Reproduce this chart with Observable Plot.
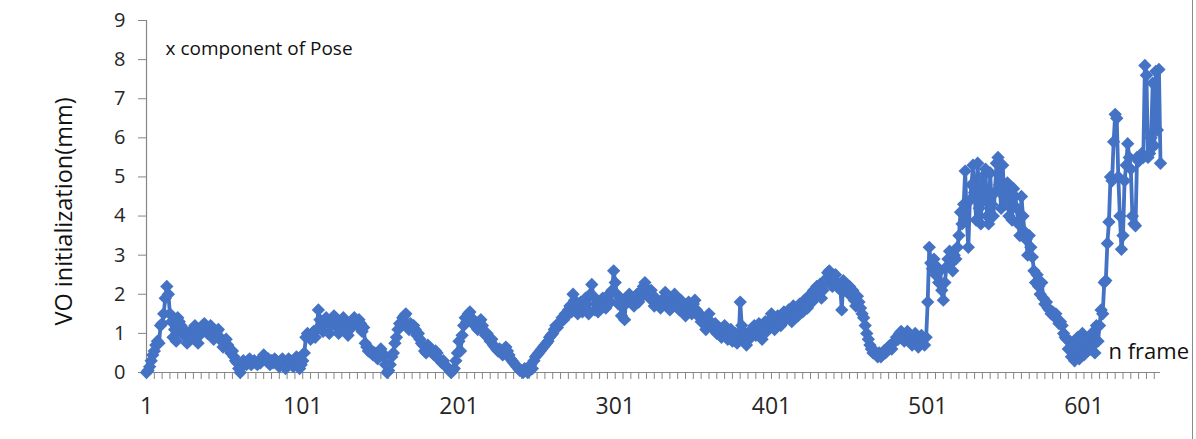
<!DOCTYPE html>
<html>
<head>
<meta charset="utf-8">
<script src="https://cdn.jsdelivr.net/npm/d3@7"></script>
<script src="https://cdn.jsdelivr.net/npm/@observablehq/plot@0.6"></script>
<style>
  html, body { margin: 0; padding: 0; background: #fff; }
  #wrap { position: relative; width: 1196px; height: 439px; overflow: hidden; }
  #edge { position: absolute; left: 1192px; top: 0; width: 1px; height: 439px; background: #8a8a8a; }
</style>
</head>
<body>
<div id="wrap"><div id="edge"></div></div>
<script>
// x component of Pose, VO initialization (mm), one value per frame (frames 1..650)
const poseX = [
  0.0, 0.05, 0.15, 0.3, 0.45, 0.55, 0.7, 0.8, 0.75, 1.2,
  1.25, 1.5, 1.9, 2.2, 2.0, 1.5, 1.3, 0.9, 1.1, 0.8,
  1.4, 1.3, 1.2, 1.0, 1.1, 0.9, 0.75, 1.0, 1.05, 0.9,
  1.1, 1.2, 1.0, 0.75, 0.95, 1.1, 1.2, 1.25, 1.15, 1.0,
  1.1, 1.2, 1.0, 0.85, 0.95, 1.05, 1.1, 0.9, 0.8, 0.65,
  0.8, 0.85, 0.7, 0.6, 0.5, 0.55, 0.4, 0.3, 0.25, 0.1,
  0.0, 0.15, 0.3, 0.25, 0.2, 0.3, 0.35, 0.2, 0.25, 0.3,
  0.25, 0.2, 0.3, 0.25, 0.35, 0.45, 0.4, 0.3, 0.35, 0.2,
  0.3, 0.25, 0.35, 0.3, 0.2, 0.15, 0.3, 0.35, 0.25, 0.1,
  0.2, 0.35, 0.3, 0.2, 0.15, 0.3, 0.4, 0.25, 0.1, 0.2,
  0.3, 0.5, 0.9, 1.0, 0.95, 0.85, 1.0, 1.05, 0.9, 1.1,
  1.6, 1.35, 1.2, 1.05, 1.25, 1.4, 1.3, 1.0, 1.2, 1.35,
  1.45, 1.3, 1.15, 1.0, 1.2, 1.3, 1.4, 1.25, 1.1, 0.95,
  1.1, 1.25, 1.35, 1.4, 1.3, 1.2, 1.35, 1.25, 1.05, 1.15,
  0.75, 0.65, 0.55, 0.6, 0.5, 0.45, 0.5, 0.4, 0.35, 0.45,
  0.6, 0.5, 0.4, 0.2, 0.0, 0.05, 0.2, 0.4, 0.5, 0.75,
  0.9, 1.1, 1.25, 1.2, 1.4, 1.45, 1.5, 1.2, 1.1, 1.25,
  1.15, 1.2, 1.1, 0.95, 1.0, 0.85, 0.75, 0.7, 0.55, 0.5,
  0.7, 0.65, 0.6, 0.5, 0.45, 0.55, 0.5, 0.35, 0.3, 0.25,
  0.3, 0.2, 0.15, 0.1, 0.05, 0.0, 0.05, 0.1, 0.3, 0.5,
  0.8, 0.55, 0.95, 1.2, 1.4, 1.3, 1.5, 1.55, 1.4, 1.3,
  1.2, 1.25, 1.1, 1.3, 1.35, 1.2, 1.05, 0.95, 1.0, 0.9,
  0.8, 0.85, 0.7, 0.65, 0.6, 0.55, 0.6, 0.5, 0.45, 0.6,
  0.65, 0.55, 0.45, 0.35, 0.3, 0.25, 0.2, 0.15, 0.1, 0.05,
  0.05, 0.0, 0.1, 0.05, 0.0, 0.1, 0.2, 0.1, 0.3, 0.4,
  0.45, 0.5, 0.55, 0.6, 0.65, 0.7, 0.75, 0.8, 0.9, 0.95,
  1.0, 1.1, 1.2, 1.15, 1.25, 1.3, 1.4, 1.35, 1.5, 1.45,
  1.6, 1.7, 1.55, 2.0, 1.85, 1.7, 1.5, 1.6, 1.8, 1.55,
  1.7, 1.9, 1.75, 1.5, 2.0, 2.25, 1.95, 1.6, 1.75, 1.55,
  1.8, 1.7, 1.9, 1.85, 1.65, 1.95, 2.0, 1.8, 2.1, 2.6,
  2.3, 2.0, 1.75, 1.9, 1.45, 1.7, 1.35, 1.9, 1.8, 2.0,
  1.85, 1.9, 1.7, 1.95, 2.0, 1.8, 1.9, 2.1, 2.2, 2.3,
  2.15, 2.0, 1.9, 2.1, 1.85, 1.7, 1.9, 1.8, 1.75, 1.65,
  1.8, 1.9, 2.05, 1.85, 1.7, 1.6, 1.75, 1.9, 2.0, 1.8,
  1.7, 1.6, 1.85, 1.75, 1.55, 1.45, 1.7, 1.8, 1.6, 1.5,
  1.75, 1.85, 1.6, 1.45, 1.5, 1.3, 1.4, 1.25, 1.1, 1.35,
  1.5, 1.3, 1.2, 1.1, 1.25, 1.0, 1.15, 1.05, 0.9, 1.1,
  1.2, 1.0, 0.85, 0.95, 1.1, 0.8, 0.9, 1.0, 0.75, 0.85,
  1.8, 1.2, 0.9, 1.0, 0.7, 0.85, 1.05, 0.9, 1.1, 1.2,
  0.95, 1.1, 1.25, 1.0, 0.85, 1.15, 1.3, 1.05, 1.2, 1.35,
  1.5, 1.25, 1.1, 1.35, 1.45, 1.3, 1.2, 1.5, 1.55, 1.35,
  1.4, 1.6, 1.45, 1.3, 1.7, 1.65, 1.5, 1.45, 1.75, 1.6,
  1.55, 1.85, 1.7, 1.65, 1.9, 2.0, 1.8, 2.1, 1.95, 2.2,
  2.05, 2.25, 1.9, 2.1, 2.3, 2.4, 2.55, 2.6, 2.45, 2.2,
  2.35, 2.5, 2.3, 2.15, 2.2, 1.6, 2.35, 2.1, 2.25, 2.05,
  2.2, 1.95, 2.1, 1.85, 1.7, 1.95, 1.8, 1.65, 1.5, 1.4,
  1.2, 1.0, 0.85, 0.7, 0.6, 0.5, 0.55, 0.45, 0.4, 0.5,
  0.4, 0.45, 0.55, 0.5, 0.6, 0.65, 0.7, 0.6, 0.75, 0.8,
  0.9, 0.85, 1.0, 1.05, 0.9, 0.8, 0.95, 1.05, 1.0, 0.85,
  0.7, 0.9, 1.0, 0.8, 0.65, 0.75, 0.95, 0.85, 0.7, 0.9,
  1.8, 3.2, 2.8, 2.65, 2.9, 2.5, 2.7, 2.3, 2.6, 2.1,
  1.85, 2.3, 2.7, 2.9, 3.1, 2.8, 2.6, 3.0, 2.9, 3.2,
  3.5, 4.1, 3.8, 4.3, 5.15, 3.9, 3.2, 4.4, 4.8, 5.3,
  4.6, 3.9, 5.35, 4.2, 3.8, 5.0, 4.4, 5.2, 4.0, 3.8,
  5.1, 4.3, 4.0, 4.6, 5.35, 5.5, 4.8, 4.2, 5.3, 4.5,
  4.3, 4.85, 4.0, 4.5, 3.9, 4.7, 4.5, 4.2, 3.8, 3.5,
  4.5, 4.0, 3.6, 3.4, 3.0, 3.5, 3.2, 2.95, 2.6, 2.3,
  2.5, 2.2, 2.0, 2.3, 1.9, 1.75, 1.8, 1.65, 1.6, 1.5,
  1.55, 1.45, 1.5, 1.35, 1.25, 1.3, 1.2, 1.0, 0.9, 0.85,
  0.6, 0.8, 0.4, 0.7, 0.3, 0.5, 0.9, 0.35, 0.6, 1.0,
  0.45, 0.8, 0.55, 0.9, 0.6, 1.0, 0.7, 0.5, 1.2, 0.8,
  1.2, 1.6, 1.5, 2.3, 2.35, 3.3, 3.85, 5.0, 4.9, 5.9,
  6.6, 6.5, 5.0, 4.0, 3.15, 3.5, 4.9, 5.3, 5.85, 5.5,
  5.2, 4.0, 3.8, 3.75, 5.5, 5.4, 5.45, 5.6, 5.5, 7.85,
  7.6, 5.5, 5.6, 6.0, 7.4, 5.8, 7.7, 6.2, 7.75, 5.35
];
const frames = poseX.map((_, i) => i + 1);
const xLabelTicks = [1, 101, 201, 301, 401, 501, 601];
const xMinorTicks = d3.range(1, 651, 5);
const yTicks = [0, 1, 2, 3, 4, 5, 6, 7, 8, 9];
const yTitle = "VO initialization(mm)";
const seriesName = "x component of Pose";
const xTitle = "n frame";

const data = frames.map((f, i) => ({frame: f, value: poseX[i]}));
const blue = "#4472c4";
const axisGray = "#868686";
const font = "'Open Sans', Lato, sans-serif";

const chart = Plot.plot({
  width: 1196,
  height: 439,
  marginTop: 20,
  marginBottom: 67,
  marginLeft: 146,
  marginRight: 36,
  style: {fontFamily: font, background: "transparent"},
  x: {domain: [1, 650]},
  y: {domain: [0, 9]},
  marks: [
    Plot.ruleX([1], {stroke: axisGray, strokeWidth: 1.2}),
    Plot.ruleY([0], {stroke: axisGray, strokeWidth: 1.2}),
    Plot.axisY({ticks: yTicks, tickSize: 8, tickPadding: 13, stroke: axisGray,
      fontSize: 20, color: "#262626", label: null}),
    Plot.axisX({ticks: xMinorTicks, tickSize: 7, stroke: axisGray, tickFormat: () => "", label: null}),
    Plot.axisX({ticks: xLabelTicks, tickSize: 0, tickPadding: 25, fontSize: 23,
      color: "#262626", tickFormat: d => String(d), label: null}),
    Plot.line(data, {x: "frame", y: "value", stroke: blue, strokeWidth: 3.8}),
    Plot.dot(data, {x: "frame", y: "value", symbol: "diamond2", r: 6, fill: blue, stroke: "none"}),
    Plot.text([yTitle], {frameAnchor: "left", dx: -82, dy: 15, rotate: -90,
      fontSize: 23.5, fill: "#111", textAnchor: "middle"}),
    Plot.text([seriesName], {frameAnchor: "top-left", dx: 19, dy: 21, textAnchor: "start",
      fontSize: 19, fill: "#111"}),
    Plot.text([xTitle], {frameAnchor: "bottom-right", dx: -52, dy: -14, textAnchor: "start",
      fontSize: 22, fill: "#111"})
  ]
});
document.getElementById("wrap").prepend(chart);
</script>
</body>
</html>
